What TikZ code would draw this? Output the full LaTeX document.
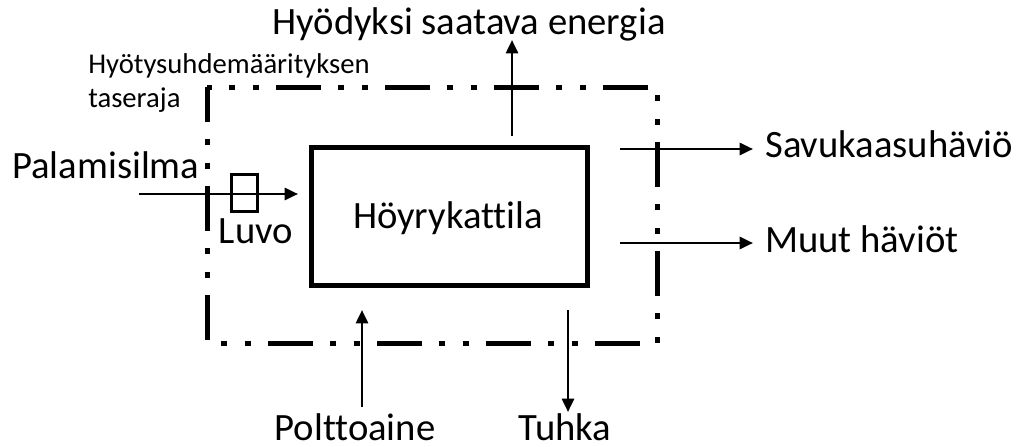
\documentclass[tikz,border=0pt]{standalone}
\usepackage{fontspec}
\setmainfont{Carlito}[Ligatures={NoCommon}]
\usetikzlibrary{arrows.meta,positioning}

\begin{document}
\begin{tikzpicture}[x=0.75pt,y=-0.75pt,
    flow/.style={line width=2pt, arrows={-Triangle[length=10pt,width=9pt]}},
    bigtext/.style={font=\fontsize{29}{34}\selectfont, inner sep=0pt},
    smalltext/.style={font=\fontsize{21.5}{26}\selectfont, inner sep=0pt},
    boundary/.style={line width=3.75pt, line join=miter,
        dash pattern=on 33.75pt off 13pt on 4.5pt off 13pt on 4.5pt off 13pt,
        dash phase=7.5pt}]
    \useasboundingbox (0,0) rectangle (1016,446);

    % system boundary
    \draw[boundary] (207,87) -- (207,343) -- (657,343) -- (657,87) -- cycle;

    % boiler and air preheater
    \node[draw, line width=3.75pt, minimum width=207pt, minimum height=104pt,
          inner sep=0pt] (kattila) at (449.5,216.5) {};
    \node[bigtext, anchor=base] (kattilateksti) at (448,228) {Höyrykattila};
    \node[draw, line width=2.25pt, minimum width=20pt, minimum height=28pt,
          inner sep=0pt] (luvo) at (244.5,193) {};
    \node[bigtext, anchor=base] (luvoteksti) at (256,243) {Luvo};

    % labels
    \node[bigtext, anchor=base] (energia) at (469,34) {Hyödyksi saatava energia};
    \node[smalltext, anchor=base west] (taseraja1) at (88,73) {Hyötysuhdemäärityksen};
    \node[smalltext, anchor=base west] (taseraja2) at (88,107) {taseraja};
    \node[bigtext, anchor=base west] (ilma) at (12,178) {Palamisilma};
    \node[bigtext, anchor=base west] (savukaasu) at (765,157) {Savukaasuhäviö};
    \node[bigtext, anchor=base west] (muut) at (765,252) {Muut häviöt};
    \node[bigtext, text depth=0pt, anchor=base] (polttoaine) at (355,440) {Polttoaine};
    \node[bigtext, text depth=0pt, anchor=base] (tuhka) at (565,440) {Tuhka};

    % arrow ends
    \coordinate (ilmaA) at (139,194);
    \coordinate (ilmaB) at (298,194);
    \coordinate (energiaA) at (512,136);
    \coordinate (energiaB) at (512,40);
    \coordinate (savuA) at (620,149);
    \coordinate (savuB) at (753,149);
    \coordinate (muutA) at (620,243);
    \coordinate (muutB) at (753,243);
    \coordinate (polttoA) at (362,407);
    \coordinate (polttoB) at (362,310);
    \coordinate (tuhkaA) at (568,310);
    \coordinate (tuhkaB) at (568,412);

    \draw[flow] (ilmaA) -- (ilmaB);
    \draw[flow] (energiaA) -- (energiaB);
    \draw[flow] (savuA) -- (savuB);
    \draw[flow] (muutA) -- (muutB);
    \draw[flow] (polttoA) -- (polttoB);
    \draw[flow] (tuhkaA) -- (tuhkaB);
\end{tikzpicture}
\end{document}
